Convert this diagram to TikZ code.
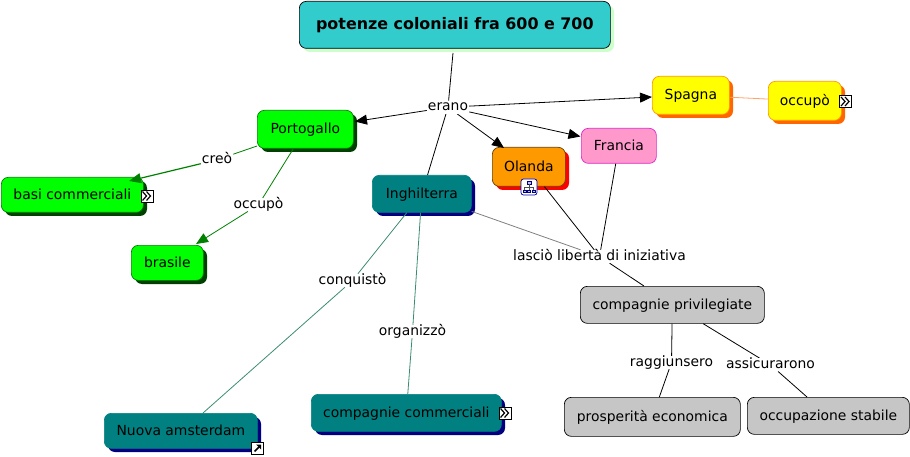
\documentclass[tikz,border=0pt]{standalone}
\usepackage{fontspec}
\setmainfont{DejaVu Sans}
\usetikzlibrary{arrows.meta,calc}
\definecolor{teala}{RGB}{0,128,128}
\definecolor{navyb}{RGB}{0,0,128}
\definecolor{greena}{RGB}{0,255,0}
\definecolor{greens}{RGB}{0,64,0}
\definecolor{lineg}{RGB}{0,128,0}
\definecolor{tealline}{RGB}{60,140,110}
\definecolor{orangeb}{RGB}{255,102,0}
\definecolor{orangec}{RGB}{255,153,0}
\definecolor{yellowc}{RGB}{255,255,0}
\definecolor{pinkc}{RGB}{255,153,204}
\definecolor{pinkl}{RGB}{220,40,200}
\definecolor{greyc}{RGB}{198,198,198}
\definecolor{titlec}{RGB}{51,204,204}
\definecolor{titles}{RGB}{204,255,204}
\tikzset{
 x=1pt,y=-1pt,
 txt/.style={font=\fontsize{13.9}{15}\selectfont,inner sep=0pt},
 lab/.style={txt,fill=white,inner xsep=1pt,inner ysep=0pt,text height=10pt,text depth=3pt},
 box/.style={txt,rounded corners=7pt,line width=.7pt,text height=9pt,text depth=0pt},
 arr/.style={-{Triangle[length=12pt,width=10pt]},line width=.8pt},
 arrg/.style={-{Triangle[length=12pt,width=10pt]},line width=.8pt,draw=lineg,color=lineg},
 lnk/.style={line width=.8pt},
 icon/.style={draw=black,fill=white,line width=.7pt,minimum size=12pt,inner sep=0pt},
}
\newcommand{\cbox}[9]{%
 \fill[#8,rounded corners=7pt] (#2+4,#3+4) rectangle (#4+4,#5+4);
 \node[box,draw=#7,fill=#6,minimum width={#4-#2},minimum height={#5-#3},anchor=north west] (#1) at (#2,#3) {#9};
}
\newcommand{\dblicon}[3]{%
 \node[icon] (#1) at (#2,#3) {};
 \draw[line width=1.2pt] (#2-4.5,#3-4.5) -- (#2-.5,#3) -- (#2-4.5,#3+4.5)
   (#2-.5,#3-4.5) -- (#2+3.5,#3) -- (#2-.5,#3+4.5);
}
\begin{document}
\begin{tikzpicture}
\useasboundingbox (0,0) rectangle (910,457);
\node[lab] (erano) at (448,107.2) {erano};
\node[lab] (creo) at (217,159.8) {creò};
\node[lab] (occa) at (258.5,204.8) {occupò};
\node[lab] (conq) at (352.5,280.5) {conquistò};
\node[lab] (org) at (412.5,331.5) {organizzò};
\node[lab] (lasc) at (599.5,256.5) {lasciò libertà di iniziativa};
\node[lab] (ragg) at (671.5,362.5) {raggiunsero};
\node[lab] (assi) at (770.5,364.8) {assicurarono};
\coordinate (e1) at (453,53);
\coordinate (tPort) at (355,121.5);
\coordinate (tSpag) at (652,97);
\coordinate (tFran) at (580.5,136.5);
\coordinate (tOland) at (504,148);
\coordinate (tBasi) at (129,181);
\coordinate (tBras) at (196,244);
\coordinate (tNuov) at (203,413);
\cbox{title}{299}{1}{610}{48}{titlec}{black}{titles}{\fontsize{15.9}{18}\selectfont\bfseries potenze coloniali fra 600 e 700}
\cbox{port}{257}{110}{353}{148}{greena}{lineg}{greens}{Portogallo}
\cbox{basi}{1}{177}{143}{212}{greena}{lineg}{greens}{basi commerciali}
\cbox{bras}{131}{245}{203}{280}{greena}{lineg}{greens}{brasile}
\cbox{ingh}{372}{175}{471}{212}{teala}{teala}{navyb}{Inghilterra}
\cbox{oland}{492}{147}{565}{186}{orangec}{black!60!orangec}{red}{Olanda}
\node[box,draw=pinkl,fill=pinkc,minimum width=75pt,minimum height=35pt,anchor=north west] (fran) at (581,128) {Francia};
\cbox{spag}{652}{76}{729}{114}{yellowc}{orangec}{orangeb}{Spagna}
\cbox{occ}{768}{81}{841}{120}{yellowc}{orangec}{orangeb}{occupò}
\cbox{nuov}{104}{413}{257}{448}{teala}{teala}{navyb}{Nuova amsterdam}
\cbox{ccomm}{311}{394}{501}{431}{teala}{teala}{navyb}{compagnie commerciali}
\node[box,draw=black,fill=greyc,minimum width=184pt,minimum height=37pt,anchor=north west] (priv) at (580,286) {compagnie privilegiate};
\node[box,draw=black,fill=greyc,minimum width=176pt,minimum height=39pt,anchor=north west] (pros) at (564,397) {prosperità economica};
\node[box,draw=black,fill=greyc,minimum width=162pt,minimum height=37pt,anchor=north west] (stab) at (747,397) {occupazione stabile};
% connectors
\draw[lnk] (e1) -- (erano);
\draw[arr] (erano) -- (tPort);
\draw[arr] (erano) -- (tSpag);
\draw[arr] (erano) -- (tFran);
\draw[arr] (erano) -- (tOland);
\draw[lnk] (erano) -- (ingh);
\draw[lnk,lineg] (port) -- (creo);
\draw[arrg,line width=1.2pt] (creo) -- (tBasi);
\draw[lnk,lineg] (port) -- (occa);
\draw[arrg] (occa) -- (tBras);
\draw[lnk,orangeb!60] (spag) -- (occ);
\draw[lnk,tealline] (ingh) -- (conq);
\draw[lnk,tealline] (conq) -- (tNuov);
\draw[lnk,tealline] (ingh) -- (org);
\draw[lnk,tealline] (org) -- (ccomm);
\draw[lnk,black!50] (ingh) -- (lasc);
\draw[lnk] (oland) -- (lasc);
\draw[lnk] (fran) -- (lasc);
\draw[lnk] (lasc) -- (priv);
\draw[lnk] (priv) -- (ragg);
\draw[lnk] (ragg) -- (pros);
\draw[lnk] (priv) -- (assi);
\draw[lnk] (assi) -- (stab);
% labels above lines
\node[lab] at (erano) {erano};
\node[lab] at (creo) {creò};
\node[lab] at (occa) {occupò};
\node[lab] at (conq) {conquistò};
\node[lab] at (org) {organizzò};
\node[lab] at (lasc) {lasciò libertà di iniziativa};
\node[lab] at (ragg) {raggiunsero};
\node[lab] at (assi) {assicurarono};
% icons
\dblicon{i1}{147}{196}
\dblicon{i2}{845.5}{101.5}
\dblicon{i3}{505}{413}
\node[icon] (i4) at (257.5,448.5) {};
\draw[line width=1.5pt] (254.5,451.5) -- (259,447);
\fill (256,444.5) -- (261,444.5) -- (261,449.5) -- cycle;
\node[draw=blue!70!black,fill=white,rounded corners=2.5pt,minimum size=16pt,inner sep=0pt,line width=.7pt] (i5) at (529,187) {};
\draw[blue!50!black,line width=.6pt,fill=blue!25] (527,181) rectangle (531,184);
\draw[black!70,line width=.6pt] (529,184) -- (529,190) (524.5,190) -- (524.5,187) -- (533.5,187) -- (533.5,190);
\draw[blue!50!black,line width=.6pt,fill=blue!25] (523,190) rectangle (526,192.5) (527.5,190) rectangle (530.5,192.5) (532,190) rectangle (535,192.5);
\end{tikzpicture}
\end{document}
